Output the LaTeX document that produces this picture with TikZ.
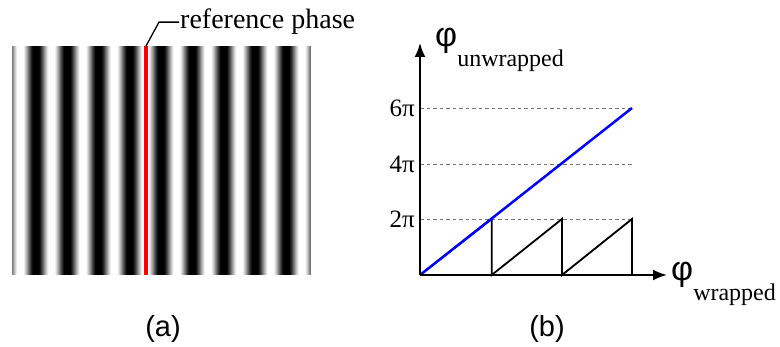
\documentclass[tikz,border=0pt]{standalone}
\usepackage{fontspec}
\setmainfont{Liberation Serif}
\setsansfont{Liberation Sans}
\usetikzlibrary{arrows.meta}

\begin{document}
\begin{tikzpicture}[x=1pt, y=1pt, >={Latex[length=14pt, width=11pt]},
  axis/.style={->, line width=2pt},
  guide/.style={black!55, line width=0.8pt, dash pattern=on 3.5pt off 3pt},
  ticklabel/.style={anchor=east, inner sep=2pt, font=\fontsize{25}{27}\selectfont},
  caption/.style={anchor=base, font=\sffamily\fontsize{29}{32}\selectfont}]
  \useasboundingbox (0,0) rectangle (780,347);
  % (a) fringe pattern: one thin column per pixel, grey level from a cosine
  \foreach \x in {12,...,310} {
    \pgfmathsetmacro\v{max(0,min(100,50-60*cos((\x+0.5-145.7)/31.3*360)))}
    \fill[black!\v] (\x,72) rectangle (\x+1.1,301);
  }
  % red line on one bright fringe, with its leader to the label
  \coordinate (refbot) at (146,72);
  \coordinate (reftop) at (146,301);
  \draw[red, line width=4pt] (refbot) -- (reftop);
  \node[anchor=base west, inner sep=1pt, font=\fontsize{28}{30}\selectfont]
    (reflabel) at (179,318) {reference phase};
  \draw[line width=1.3pt] (reftop) -- ([xshift=-20pt]reflabel.west) -- (reflabel.west);
  \node[caption] (capa) at (163,10) {(a)};

  % (b) wrapped vs unwrapped phase
  \coordinate (O) at (420,72);
  \foreach \k/\yy in {2/128,4/183,6/239} {
    \draw[guide] (420,\yy) -- (634,\yy);
    \node[ticklabel] (tick\k) at (417,\yy) {\k π};
  }
  % sawtooth first, the unwrapped (blue) ramp on top
  \draw[line width=1.8pt] (O) -- (491.7,128) -- (491.7,72) -- (562,128)
    -- (562,72) -- (632,128) -- (632,72);
  \draw[blue, line width=2.5pt] (O) -- (632,239);
  \draw[axis] (O) -- ++(0,232) coordinate (ytop);
  \draw[axis] (O) -- ++(247,0) coordinate (xtip);
  \node[anchor=base west, inner sep=0pt] (yname) at (435,300)
    {\sffamily\fontsize{34}{36}\selectfont φ\raisebox{-20pt}{\rmfamily\fontsize{24}{26}\selectfont unwrapped}};
  \node[anchor=base west, inner sep=0pt] (xname) at (671,66)
    {\sffamily\fontsize{34}{36}\selectfont φ\raisebox{-20pt}{\rmfamily\fontsize{24}{26}\selectfont wrapped}};
  \node[caption] (capb) at (547,10) {(b)};
\end{tikzpicture}
\end{document}
